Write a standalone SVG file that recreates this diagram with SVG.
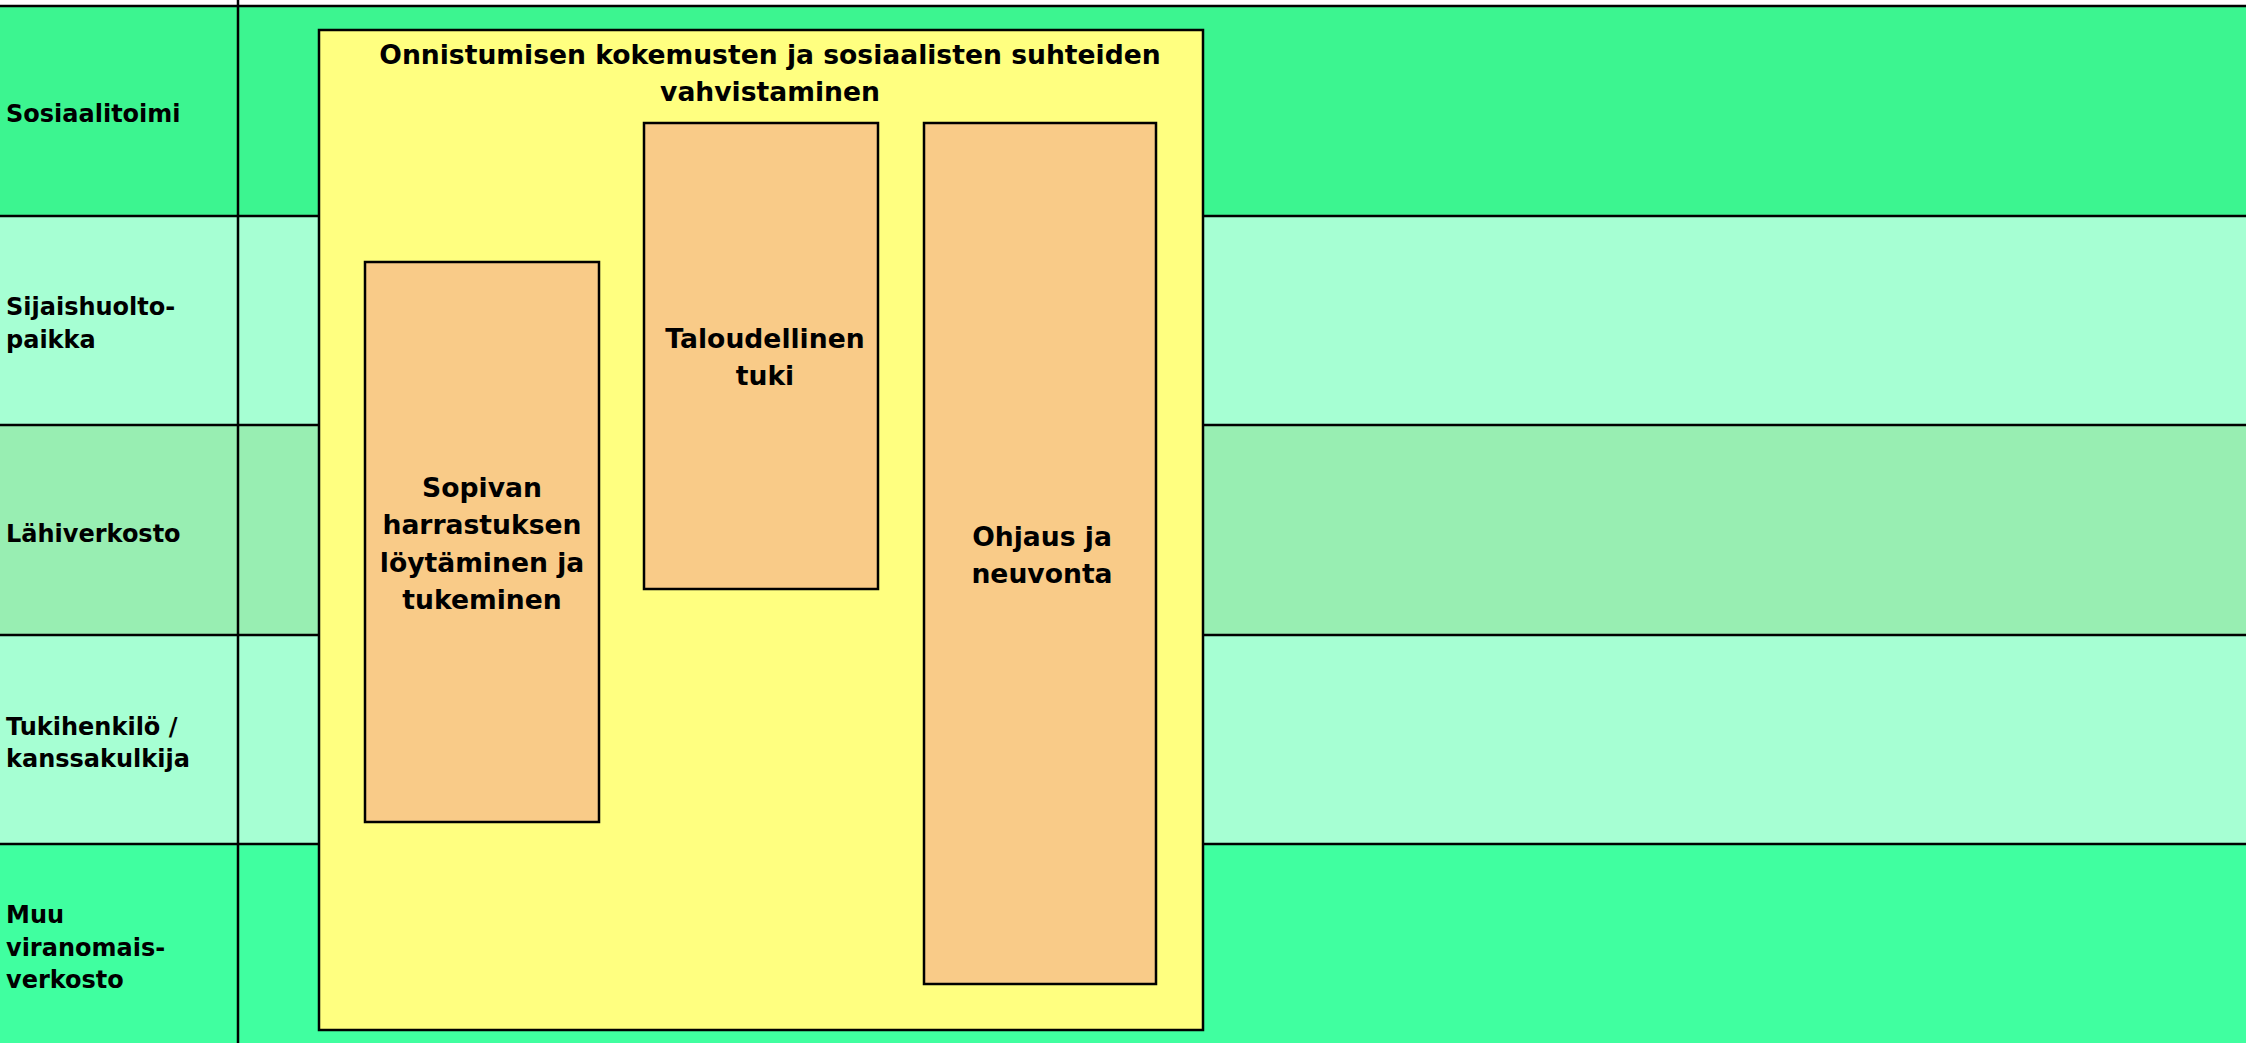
<svg xmlns="http://www.w3.org/2000/svg" width="2246" height="1043" viewBox="0 0 2246 1043">
<style>
.lane{stroke:none}
.line{stroke:#000;stroke-width:2.5}
.lbl{font-family:"DejaVu Sans",Verdana,sans-serif;font-weight:bold;font-size:24px;fill:#000}
.box{stroke:#000;stroke-width:2.5}
.txt{font-family:"DejaVu Sans",Verdana,sans-serif;font-weight:bold;font-size:26.6px;fill:#000;text-anchor:middle}
</style>
<rect x="0" y="0" width="2246" height="1043" fill="#ffffff"/>
<g id="lanes">
<rect class="lane" x="0" y="6" width="2246" height="210" fill="#3cf590"/>
<rect class="lane" x="0" y="216" width="2246" height="209" fill="#a6ffd3"/>
<rect class="lane" x="0" y="425" width="2246" height="210" fill="#98eeb2"/>
<rect class="lane" x="0" y="635" width="2246" height="209" fill="#a6ffd3"/>
<rect class="lane" x="0" y="844" width="2246" height="199" fill="#40ffa0"/>
</g>
<g id="grid">
<line class="line" x1="0" y1="6" x2="2246" y2="6"/>
<line class="line" x1="0" y1="216" x2="2246" y2="216"/>
<line class="line" x1="0" y1="425" x2="2246" y2="425"/>
<line class="line" x1="0" y1="635" x2="2246" y2="635"/>
<line class="line" x1="0" y1="844" x2="2246" y2="844"/>
<line class="line" x1="238" y1="0" x2="238" y2="1043"/>
</g>
<g id="lane-labels">
<text class="lbl" x="6" y="122">Sosiaalitoimi</text>
<text class="lbl" x="6" y="315">Sijaishuolto-<tspan x="6" y="348">paikka</tspan></text>
<text class="lbl" x="6" y="542">Lähiverkosto</text>
<text class="lbl" x="6" y="735">Tukihenkilö /<tspan x="6" y="767">kanssakulkija</tspan></text>
<text class="lbl" x="6" y="923">Muu<tspan x="6" y="956">viranomais-</tspan><tspan x="6" y="988">verkosto</tspan></text>
</g>
<g id="group-main">
<rect class="box" x="319" y="30" width="884" height="1000" fill="#ffff80"/>
<text class="txt" x="770" y="64">Onnistumisen kokemusten ja sosiaalisten suhteiden<tspan x="770" y="101">vahvistaminen</tspan></text>
</g>
<g id="node-harrastus">
<rect class="box" x="365" y="262" width="234" height="560" fill="#f9cb88"/>
<text class="txt" x="482" y="497">Sopivan<tspan x="482" y="534">harrastuksen</tspan><tspan x="482" y="572">löytäminen ja</tspan><tspan x="482" y="609">tukeminen</tspan></text>
</g>
<g id="node-talous">
<rect class="box" x="644" y="123" width="234" height="466" fill="#f9cb88"/>
<text class="txt" x="765" y="348">Taloudellinen<tspan x="765" y="385">tuki</tspan></text>
</g>
<g id="node-ohjaus">
<rect class="box" x="924" y="123" width="232" height="861" fill="#f9cb88"/>
<text class="txt" x="1042" y="546">Ohjaus ja<tspan x="1042" y="583">neuvonta</tspan></text>
</g>
<g id="connectors"></g>
</svg>
